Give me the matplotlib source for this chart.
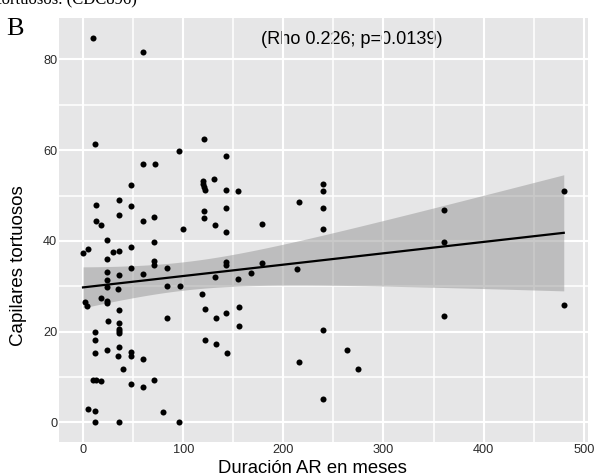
import numpy as np
import matplotlib
matplotlib.use('Agg')
from matplotlib import pyplot as plt

# Duración de la AR (meses) frente a número de capilares tortuosos
duracion = [10, 60, 12, 121, 96, 143, 60, 72, 131, 120, 120, 121, 122, 143, 155, 48,
            13, 36, 48, 36, 13, 18, 60, 71, 100, 121, 121, 132, 143, 143, 179, 216,
            240, 240, 240, 240, 360, 480, 360,
            214, 480, 360, 240, 264, 275, 216, 240,
            0, 5, 24, 48, 71, 30, 36, 24, 71, 71, 48, 84, 24, 24, 36, 60, 24, 35,
            84, 97, 132, 143, 143, 168, 179, 155,
            2, 4, 18, 24, 24, 119, 36, 122, 156, 25, 36, 36, 36, 36, 84, 133, 143,
            156, 12, 12, 122, 133, 24, 36, 12, 35, 48, 48, 60, 144, 40, 10, 13, 18,
            48, 60, 71, 5, 12, 80, 12, 36, 96]
capilares = [84.7, 81.7, 61.3, 62.5, 59.8, 58.7, 56.9, 56.9, 53.6, 53.2, 52.5, 51.8, 51.2, 51.3, 51.0, 52.3,
             48.0, 49.0, 47.7, 45.6, 44.3, 43.6, 44.3, 45.3, 42.7, 46.5, 45.0, 43.4, 47.3, 41.9, 43.7, 48.6,
             52.5, 51.0, 47.3, 42.7, 46.7, 51.0, 39.7,
             33.7, 25.9, 23.4, 20.4, 16.0, 11.8, 13.3, 5.1,
             37.3, 38.2, 40.2, 38.7, 39.8, 37.6, 37.8, 35.9, 35.6, 34.7, 34.0, 34.0, 33.1, 31.4, 32.4, 32.7, 29.8, 29.5,
             30.1, 30.1, 32.1, 35.3, 34.6, 33.0, 35.2, 31.5,
             26.5, 25.6, 27.5, 26.7, 26.2, 28.4, 24.8, 24.9, 25.5, 22.3, 22.0, 20.6, 20.2, 19.7, 23.0, 23.0, 24.2,
             21.2, 20.0, 18.1, 18.1, 17.3, 16.0, 16.7, 15.2, 14.7, 15.5, 14.6, 14.0, 15.2, 11.8, 9.4, 9.4, 9.1,
             8.4, 7.8, 9.4, 2.9, 2.5, 2.3, 0, 0, 0]
x_ticks = [0, 100, 200, 300, 400, 500]
y_ticks = [0, 20, 40, 60, 80]
texto_rho = '(Rho 0.226; p=0.0139)'

x = np.array(duracion, dtype=float)
y = np.array(capilares, dtype=float)

# recta de regresion lineal con intervalo de confianza del 95%
n = len(x)
pend, inter = np.polyfit(x, y, 1)
resid = y - (inter + pend * x)
s = np.sqrt(np.sum(resid ** 2) / (n - 2))
sxx = np.sum((x - x.mean()) ** 2)
xs = np.linspace(x.min(), x.max(), 100)
ys = inter + pend * xs
se = s * np.sqrt(1.0 / n + (xs - x.mean()) ** 2 / sxx)
t975 = 1.98

plt.rcParams['font.family'] = ['Liberation Sans', 'DejaVu Sans']

fig = plt.figure(figsize=(5.96, 4.76), dpi=100)
ax = fig.add_axes([59 / 596, 34.4 / 476, 528.8 / 596, 424.1 / 476])
ax.set_facecolor('#E6E6E7')
for s_ in ax.spines.values():
    s_.set_visible(False)

ax.set_xlim(-24, 504)
ax.set_ylim(-4.25, 89.25)
ax.set_xticks(x_ticks)
ax.set_yticks(y_ticks)
ax.set_xticks([50, 150, 250, 350, 450], minor=True)
ax.set_yticks([10, 30, 50, 70], minor=True)
ax.set_axisbelow(True)
ax.grid(which='major', color='white', lw=1.5)
ax.grid(which='minor', color='white', lw=1.1)
ax.tick_params(which='both', length=0, labelsize=9.2, labelcolor='#2a2a2a')
ax.tick_params(axis='x', pad=1.8)
ax.tick_params(axis='y', pad=1.2)

ax.fill_between(xs, ys - t975 * se, ys + t975 * se, color='#999999', alpha=0.52, lw=0, zorder=1)
ax.plot(xs, ys, color='black', lw=1.6, zorder=2)
ax.scatter(x, y, s=19, color='black', lw=0, zorder=3)

# el texto queda por debajo de la rejilla
ax.text(268, 84.3, texto_rho, ha='center', va='center', fontsize=13.1, color='black', zorder=0.3)

# titulos de los ejes
fig.text(312.5 / 596, 3 / 476, 'Duración AR en meses', fontsize=13.3, ha='center', va='baseline')
fig.text(19 / 596, 1 - 265.5 / 476, 'Capilares tortuosos', fontsize=13.5, rotation=90,
         ha='center', va='center')

fig.text(6 / 596, 1 - 35 / 476, 'B', family='Liberation Serif', fontsize=19, va='baseline')
fig.text(137 / 596, 1 - 4 / 476, 'tortuosos. (CDC896)', family='Liberation Serif',
         fontsize=12, ha='right', va='baseline')

fig.savefig('out.png', dpi=100)
